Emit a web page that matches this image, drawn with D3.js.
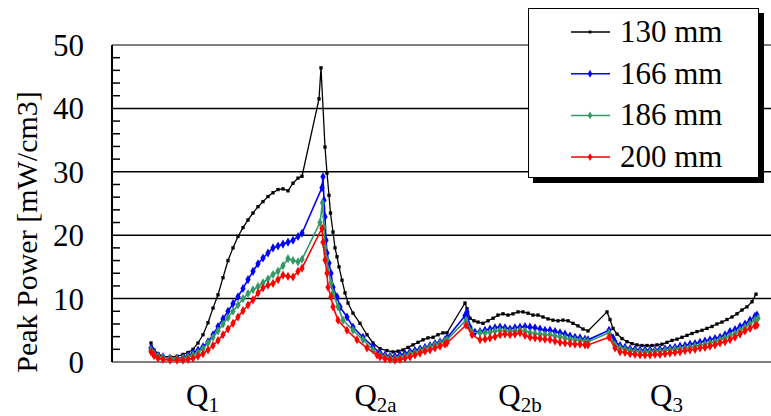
<!DOCTYPE html>
<html><head><meta charset="utf-8">
<script src="https://cdn.jsdelivr.net/npm/d3@7"></script>
<style>body{margin:0;background:#fff}svg{display:block}text{font-family:"Liberation Serif","Times New Roman",serif}</style>
</head><body><svg id="c" width="771" height="416"></svg>
<script>
const yTicks = [0,10,20,30,40,50];
const seriesNames = ["130 mm","166 mm","186 mm","200 mm"];
const seriesColors = ["#000000","#0000ff","#339966","#ff0000"];
const categories = [{t:"Q",s:"1",x:10.3},{t:"Q",s:"2a",x:44.9},{t:"Q",s:"2b",x:73.8},{t:"Q",s:"3",x:103.1}];

const s130 = [[0,3.0],[0.6,1.9],[1.4,1.3],[2.4,0.9],[3.8,0.8],[5.2,0.9],[6.4,1.2],[7.4,1.5],[8.4,2.0],[9.4,3.0],[10.4,4.3],[11.4,6.2],[12.4,8.5],[13.4,10.6],[14.4,13.3],[15.4,16.0],[16.4,18.0],[17.4,19.8],[18.4,21.2],[19.4,22.4],[20.4,23.5],[21.4,24.5],[22.4,25.3],[23.4,26.1],[24.4,26.7],[25.4,27.2],[26.4,27.3],[27.4,27.0],[28.4,28.2],[29.4,29.0],[30.2,29.3],
[33.6,41.5],[34.0,46.4],[34.8,33.9],[35.2,29.8],[35.6,26.3],[35.9,23.5],[36.4,20.5],[36.8,18.0],[37.2,16.6],[37.6,15.0],[38.2,12.9],[38.8,10.9],[39.4,9.3],[40.4,7.7],[41.8,6.1],[43.2,4.3],[44.4,3.0],[45.8,2.1],[47.2,1.8],[48.4,1.6],[49.4,1.7],[50.4,1.9],[51.4,2.3],[52.4,2.7],[53.4,3.1],[54.4,3.5],[55.4,3.8],[56.4,3.9],[57.4,4.3],[58.4,4.6],[59.2,4.6],
[62.8,9.3],[63.2,8.4],[63.8,6.9],[64.6,6.5],[65.4,6.3],[66.4,6.1],[67.4,6.5],[68.4,6.9],[69.4,7.4],[70.4,7.6],[71.4,7.4],[72.4,7.6],[73.4,7.9],[74.4,7.9],[75.4,7.7],[76.4,7.4],[77.4,7.4],[78.4,7.1],[79.4,6.8],[80.4,6.6],[81.4,6.5],[82.4,6.6],[83.4,6.5],[84.4,6.1],[85.4,5.7],[86.4,5.2],[87.4,4.9],
[91.2,7.9],[91.8,6.7],[92.4,5.3],[93.2,4.4],[94.2,3.7],[95.2,3.2],[96.2,2.9],[97.2,2.7],[98.2,2.6],[99.2,2.6],[100.2,2.6],[101.2,2.7],[102.2,2.8],[103.2,3.1],[104.2,3.4],[105.2,3.6],[106.2,3.9],[107.2,4.2],[108.2,4.5],[109.2,4.8],[110.2,5.0],[111.2,5.3],[112.2,5.6],[113.2,6.0],[114.2,6.3],[115.2,6.7],[116.2,7.1],[117.2,7.6],[118.2,8.2],[119.2,8.7],[120.2,9.5],[121.0,10.7]];

const s166 = [[0,2.2],[0.6,1.5],[1.4,1.0],[2.4,0.8],[3.8,0.6],[5.2,0.6],[6.4,0.7],[7.4,1.0],[8.4,1.4],[9.4,1.9],[10.4,2.4],[11.4,3.2],[12.4,4.3],[13.4,5.6],[14.4,6.8],[15.4,8.0],[16.4,9.2],[17.4,10.3],[18.4,11.6],[19.4,13.0],[20.4,14.3],[21.4,15.5],[22.4,16.4],[23.4,17.2],[24.4,18.0],[25.4,18.3],[26.4,18.6],[27.4,18.9],[28.4,19.2],[29.4,19.8],[30.2,20.3],
[34.2,27.5],[34.4,29.2],[34.6,25.5],[34.8,22.9],[35.0,19.2],[35.2,17.2],[35.6,15.6],[36.0,14.0],[36.4,11.8],[37.2,10.3],[37.8,8.7],[39.2,7.1],[40.4,5.5],[42.4,3.9],[44.4,2.4],[45.8,1.4],[46.8,1.1],[47.8,0.9],[48.8,0.9],[49.8,1.1],[50.8,1.3],[51.8,1.6],[52.8,1.8],[53.8,2.1],[54.8,2.3],[55.8,2.6],[56.8,2.9],[57.8,3.2],[58.8,3.5],[59.2,3.8],
[62.8,7.3],[63.2,7.9],[63.8,5.5],[64.8,4.7],[65.8,4.8],[66.8,5.0],[67.8,5.2],[68.8,5.4],[69.8,5.5],[70.8,5.4],[71.8,5.2],[72.8,5.4],[73.8,5.5],[74.8,5.6],[75.8,5.5],[76.8,5.4],[77.8,5.2],[78.8,5.0],[79.8,5.0],[80.8,4.8],[81.8,4.6],[82.8,4.4],[83.8,4.1],[84.8,3.9],[85.8,3.8],[86.8,3.6],[87.4,3.5],
[91.6,5.0],[92.4,3.8],[92.8,3.2],[93.8,2.6],[94.8,2.3],[95.8,2.1],[96.8,2.0],[97.8,1.9],[98.8,1.9],[99.8,1.9],[100.8,1.9],[101.8,2.0],[102.8,2.1],[103.8,2.2],[104.8,2.3],[105.8,2.5],[106.8,2.6],[107.8,2.8],[108.8,2.9],[109.8,3.1],[110.8,3.3],[111.8,3.5],[112.8,3.7],[113.8,3.9],[114.8,4.3],[115.8,4.8],[116.8,5.1],[117.8,5.6],[118.8,6.0],[119.8,6.6],[120.8,7.2],[121.2,7.4]];

const s186 = [[0,1.9],[0.6,1.3],[1.4,0.9],[2.4,0.7],[3.8,0.6],[5.2,0.5],[6.4,0.6],[7.4,0.8],[8.4,1.1],[9.4,1.5],[10.4,2.1],[11.4,3.0],[12.4,3.9],[13.4,4.9],[14.4,6.0],[15.4,7.0],[16.4,8.0],[17.4,9.0],[18.4,10.0],[19.4,10.8],[20.4,11.4],[21.4,11.9],[22.4,12.5],[23.4,13.1],[24.4,13.8],[25.4,14.3],[26.4,15.2],[27.4,16.3],[28.4,16.0],[29.4,15.8],[30.2,16.2],
[33.8,22.0],[34.3,25.1],[34.6,21.3],[34.8,18.1],[35.2,16.1],[35.4,14.5],[36.0,12.5],[36.4,10.9],[37.4,8.7],[38.4,6.6],[40.4,5.0],[42.4,3.5],[44.4,1.9],[45.8,1.1],[46.8,0.8],[47.8,0.7],[48.8,0.6],[49.8,0.7],[50.8,0.9],[51.8,1.3],[52.8,1.5],[53.8,1.8],[54.8,2.1],[55.8,2.4],[56.8,2.7],[57.8,3.0],[58.8,3.3],[59.2,3.5],
[63.0,6.6],[64.2,4.7],[65.8,4.6],[66.8,4.6],[67.8,4.7],[68.8,4.9],[69.8,5.0],[70.8,4.9],[71.8,4.8],[72.8,4.9],[73.8,5.0],[74.8,4.9],[75.8,4.6],[76.8,4.5],[77.8,4.4],[78.8,4.3],[79.8,4.3],[80.8,4.1],[81.8,4.0],[82.8,3.8],[83.8,3.6],[84.8,3.5],[85.8,3.4],[86.8,3.3],[87.4,3.2],
[91.6,4.6],[92.8,2.7],[93.8,2.2],[94.8,2.0],[95.8,1.8],[96.8,1.7],[97.8,1.6],[98.8,1.6],[99.8,1.6],[100.8,1.7],[101.8,1.7],[102.8,1.8],[103.8,1.9],[104.8,2.0],[105.8,2.1],[106.8,2.2],[107.8,2.3],[108.8,2.5],[109.8,2.6],[110.8,2.8],[111.8,3.0],[112.8,3.2],[113.8,3.5],[114.8,3.8],[115.8,4.1],[116.8,4.5],[117.8,5.0],[118.8,5.5],[119.8,6.0],[120.8,6.6],[121.4,6.9]];

const s200 = [[0,1.6],[0.6,1.0],[1.4,0.6],[2.4,0.4],[3.8,0.3],[5.2,0.3],[6.4,0.3],[7.4,0.4],[8.4,0.6],[9.4,0.9],[10.4,1.3],[11.4,1.9],[12.4,2.6],[13.4,3.4],[14.4,4.3],[15.4,5.2],[16.4,6.1],[17.4,7.1],[18.4,8.1],[19.4,9.0],[20.4,9.8],[21.4,10.9],[22.4,11.7],[23.4,12.1],[24.4,12.4],[25.4,13.0],[26.4,13.7],[27.4,13.5],[28.4,13.4],[29.4,14.3],[30.2,14.8],
[34.2,21.1],[34.4,18.9],[34.8,16.1],[35.2,14.0],[35.4,11.8],[36.0,10.3],[36.4,8.7],[37.4,6.6],[39.2,5.0],[41.2,3.5],[43.2,2.2],[45.2,1.1],[45.8,0.8],[46.8,0.5],[47.8,0.4],[48.8,0.3],[49.8,0.4],[50.8,0.6],[51.8,0.8],[52.8,1.1],[53.8,1.4],[54.8,1.7],[55.8,1.9],[56.8,2.2],[57.8,2.5],[58.8,2.8],[59.2,3.0],
[63.0,5.8],[64.2,4.3],[65.8,3.5],[66.8,3.6],[67.8,3.8],[68.8,4.0],[69.8,4.3],[70.8,4.4],[71.8,4.3],[72.8,4.4],[73.8,4.6],[74.8,4.2],[75.8,3.9],[76.8,3.8],[77.8,3.7],[78.8,3.6],[79.8,3.5],[80.8,3.3],[81.8,3.1],[82.8,3.0],[83.8,2.9],[84.8,2.8],[85.8,2.8],[86.8,2.7],[87.4,2.7],
[91.6,3.9],[92.8,2.2],[93.8,1.6],[94.8,1.5],[95.8,1.3],[96.8,1.2],[97.8,1.1],[98.8,1.1],[99.8,1.1],[100.8,1.2],[101.8,1.2],[102.8,1.3],[103.8,1.4],[104.8,1.5],[105.8,1.6],[106.8,1.8],[107.8,1.9],[108.8,2.0],[109.8,2.2],[110.8,2.3],[111.8,2.5],[112.8,2.7],[113.8,3.0],[114.8,3.2],[115.8,3.5],[116.8,3.9],[117.8,4.4],[118.8,4.9],[119.8,5.3],[120.8,5.7],[121.2,5.8]];

const seriesData = [s130, s166, s186, s200];

const svg = d3.select("#c");
const L = 112, R = 771, T = 45, B = 362;
const FONT = '"Liberation Serif","Times New Roman",serif';
const x = d3.scaleLinear().domain([-7.8, 124]).range([L, R]);
const y = d3.scaleLinear().domain([0, 50]).range([B, T]);

// gridlines
svg.append("g").selectAll("line").data(yTicks).join("line")
  .attr("x1", L).attr("x2", R).attr("y1", d => y(d)).attr("y2", d => y(d))
  .attr("stroke", d => (d === 0 || d === 50) ? "#808080" : "#000")
  .attr("stroke-width", d => (d === 0 || d === 50) ? 2 : 1.5);

// y axis with minor ticks inside
const minor = d3.range(0, 51, 2).filter(v => v % 10 !== 0);
svg.append("g").selectAll("line").data(minor).join("line")
  .attr("x1", L).attr("x2", L + 8).attr("y1", d => y(d)).attr("y2", d => y(d))
  .attr("stroke", "#000").attr("stroke-width", 1.5);
svg.append("line").attr("x1", L).attr("x2", L).attr("y1", T).attr("y2", B)
  .attr("stroke", "#000").attr("stroke-width", 2);

const yAxis = d3.axisLeft(y).tickValues(yTicks).tickSize(0).tickPadding(28);
const gy = svg.append("g").attr("transform", `translate(${L},0)`).call(yAxis);
gy.attr("font-family", FONT);
gy.select(".domain").remove();
gy.selectAll("text").attr("font-family", FONT).attr("font-size", 31).attr("fill", "#000").attr("dy", "0.34em");

// y title
svg.append("text").attr("transform", `translate(37,232) rotate(-90)`)
  .attr("font-family", FONT).attr("text-anchor", "middle").attr("font-size", 30).text("Peak Power [mW/cm3]");

// category labels
const cat = svg.append("g").selectAll("text").data(categories).join("text")
  .attr("font-family", FONT)
  .attr("x", d => x(d.x)).attr("y", 406).attr("text-anchor", "middle").attr("font-size", 31);
cat.append("tspan").text(d => d.t);
cat.append("tspan").attr("font-size", 21).attr("dy", 6).text(d => d.s);

// series
const line = d3.line().x(d => x(d[0])).y(d => y(d[1]));
seriesData.forEach((data, i) => {
  const g = svg.append("g");
  g.append("path").datum(data).attr("d", line).attr("fill", "none")
    .attr("stroke", seriesColors[i]).attr("stroke-width", i === 0 ? 1.3 : 1.6);
  const sym = i === 0 ? d3.symbol(d3.symbolSquare, 11) : d3.symbol(d3.symbolDiamond, 24);
  g.selectAll("path.m").data(data).join("path").attr("class", "m")
    .attr("transform", d => `translate(${x(d[0])},${y(d[1])})`)
    .attr("d", sym).attr("fill", seriesColors[i]);
});

// legend
const lg = svg.append("g");
lg.append("rect").attr("x", 533).attr("y", 13).attr("width", 231).attr("height", 170).attr("fill", "#000");
lg.append("rect").attr("x", 528.5).attr("y", 8.5).attr("width", 230).attr("height", 169).attr("fill", "#fff").attr("stroke", "#000").attr("stroke-width", 1);
seriesNames.forEach((n, i) => {
  const cy = 32 + i * 41.7;
  lg.append("line").attr("x1", 571).attr("x2", 610).attr("y1", cy).attr("y2", cy).attr("stroke", seriesColors[i]).attr("stroke-width", 1.5);
  lg.append("path").attr("transform", `translate(590,${cy})`).attr("d", i === 0 ? d3.symbol(d3.symbolSquare, 8)() : d3.symbol(d3.symbolDiamond, 18)()).attr("fill", seriesColors[i]);
  lg.append("text").attr("font-family", FONT).attr("x", 620).attr("y", cy + 10).attr("font-size", 31).text(n);
});
</script></body></html>
